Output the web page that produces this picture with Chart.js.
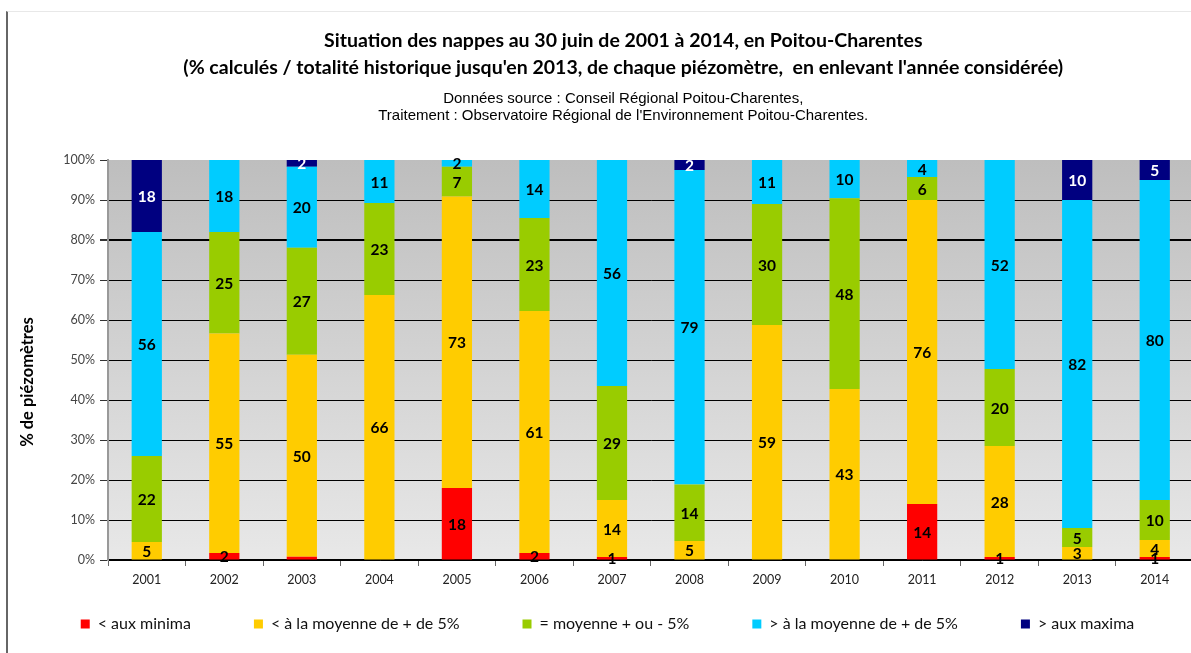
<!DOCTYPE html>
<html>
<head>
<meta charset="utf-8">
<script src="https://cdn.jsdelivr.net/npm/chart.js@4.4.1/dist/chart.umd.min.js"></script>
<style>
  html, body { margin: 0; padding: 0; background: #fff; overflow: hidden; }
  #wrap { position: relative; width: 1191px; height: 653px; overflow: hidden; }
  #chart { position: absolute; left: 0; top: 0; }
  #frame { position: absolute; left: 6px; top: 11px; width: 1200px; height: 700px;
           border-left: 2px solid #666; border-top: 1px solid #e8e8e8; pointer-events: none; }
</style>
</head>
<body>
<div id="wrap">
  <canvas id="chart" width="1200" height="653"></canvas>
  <div id="frame"></div>
</div>
<script>
// years
const years = ['2001','2002','2003','2004','2005','2006','2007','2008','2009','2010','2011','2012','2013','2014'];

// bar segment heights (% of piezometers)
const minima   = [0, 1.75, 0.8, 0, 18, 1.75, 0.75, 0, 0, 0, 14, 0.75, 0, 0.75];
const belowAvg = [4.5, 54.85, 50.5, 66.25, 72.9, 60.5, 14.25, 4.75, 58.75, 42.75, 76, 27.75, 3.25, 4.25];
const aroundAvg = [21.5, 25.4, 26.75, 23, 7.4, 23.25, 28.5, 14.1, 30.25, 47.7, 5.75, 19.25, 4.75, 10];
const aboveAvg = [56, 18, 20.25, 10.75, 1.7, 14.5, 56.5, 78.65, 11, 9.55, 4.25, 52.25, 82, 80];
const maxima   = [18, 0, 1.7, 0, 0, 0, 0, 2.5, 0, 0, 0, 0, 10, 5];

// numbers printed on the bars (null = not printed)
const lblMinima   = [null, 2, null, null, 18, 2, 1, null, null, null, 14, 1, null, 1];
const lblBelowAvg = [5, 55, 50, 66, 73, 61, 14, 5, 59, 43, 76, 28, 3, 4];
const lblAroundAvg = [22, 25, 27, 23, 7, 23, 29, 14, 30, 48, 6, 20, 5, 10];
const lblAboveAvg = [56, 18, 20, 11, 2, 14, 56, 79, 11, 10, 4, 52, 82, 80];
const lblMaxima   = [18, null, 2, null, null, null, null, 2, null, null, null, null, 10, 5];

const seriesNames = ['< aux minima', '< à la moyenne de + de 5%', '= moyenne + ou - 5%', '> à la moyenne de + de 5%', '> aux maxima'];
const seriesColors = ['#ff0000', '#ffcc00', '#99cc00', '#00ccff', '#000080'];
const yTicks = [0, 10, 20, 30, 40, 50, 60, 70, 80, 90, 100];

const values = [minima, belowAvg, aroundAvg, aboveAvg, maxima];
const labels = [lblMinima, lblBelowAvg, lblAroundAvg, lblAboveAvg, lblMaxima];

const plotBg = {
  id: 'plotBg',
  beforeDraw(chart) {
    const {ctx, chartArea: a} = chart;
    const g = ctx.createLinearGradient(0, a.top, 0, a.bottom);
    g.addColorStop(0, '#bebebe');
    g.addColorStop(1, '#e8e8e8');
    ctx.save();
    ctx.fillStyle = g;
    ctx.fillRect(a.left, a.top, a.right - a.left, a.bottom - a.top);
    ctx.restore();
  }
};

const barLabels = {
  id: 'barLabels',
  afterDatasetsDraw(chart) {
    const ctx = chart.ctx;
    ctx.save();
    ctx.font = 'bold 15.5px Lato';
    ctx.textAlign = 'center';
    ctx.textBaseline = 'middle';
    chart.data.datasets.forEach((ds, i) => {
      chart.getDatasetMeta(i).data.forEach((el, j) => {
        const t = labels[i][j];
        if (t === null) return;
        ctx.fillStyle = i === 4 ? '#ffffff' : '#000000';
        ctx.fillText(String(t), el.x, (el.y + el.base) / 2 + 1);
      });
    });
    ctx.restore();
  }
};

const yTitle = {
  id: 'yTitle',
  afterDraw(chart) {
    const ctx = chart.ctx;
    ctx.save();
    ctx.translate(28, 382);
    ctx.rotate(-Math.PI / 2);
    ctx.font = 'bold 16.5px Lato';
    ctx.fillStyle = '#000';
    ctx.textAlign = 'center';
    ctx.textBaseline = 'middle';
    ctx.fillText('% de piézomètres', 0, 0);
    ctx.restore();
  }
};

// legend: one row, centred under the plot, item text at y ~624
const legendPlace = {
  id: 'legendPlace',
  afterLayout(chart) {
    const lg = chart.legend;
    const pad = lg.options.labels.padding;
    lg.maxWidth = 1400;
    lg.fit();
    lg.left = 607.5 - 700;
    lg.right = 607.5 + 700;
    lg.width = 1400;
    lg.top = 616 - pad;
    lg.bottom = chart.height;
    lg.height = lg.bottom - lg.top;
  }
};

new Chart(document.getElementById('chart'), {
  type: 'bar',
  data: {
    labels: years,
    datasets: values.map((v, i) => ({
      label: seriesNames[i],
      data: v,
      backgroundColor: seriesColors[i],
      borderWidth: 0,
      barPercentage: 0.39,
      categoryPercentage: 1
    }))
  },
  options: {
    responsive: false,
    animation: false,
    devicePixelRatio: 1,
    layout: { padding: { left: 53, right: 6.5, top: 0, bottom: 0 } },
    plugins: {
      title: {
        display: true,
        text: ['Situation des nappes au 30 juin de 2001 à 2014, en Poitou-Charentes',
               "(% calculés / totalité historique jusqu'en 2013, de chaque piézomètre,  en enlevant l'année considérée)"],
        color: '#000',
        font: { family: 'Lato', size: 19.5, weight: 'bold', lineHeight: '27px' },
        padding: { top: 27.5, bottom: 0 }
      },
      subtitle: {
        display: true,
        text: ['Données source : Conseil Régional Poitou-Charentes,',
               "Traitement : Observatoire Régional de l'Environnement Poitou-Charentes."],
        color: '#000',
        font: { family: 'Liberation Sans', size: 15, lineHeight: '17px' },
        padding: { top: 9, bottom: 35.5 }
      },
      legend: {
        position: 'bottom',
        maxHeight: 60,
        labels: {
          boxWidth: 9,
          boxHeight: 9,
          padding: 63,
          color: '#111',
          font: { family: 'Lato', size: 16 }
        }
      },
      tooltip: { enabled: false }
    },
    scales: {
      x: {
        stacked: true,
        grid: { display: true, drawOnChartArea: false, drawTicks: true, tickLength: 6, tickColor: '#666', offset: true },
        border: { display: true, color: '#000', width: 1.5 },
        ticks: { color: '#222', font: { family: 'Lato', size: 12.5 }, padding: 6, maxRotation: 0 }
      },
      y: {
        stacked: true,
        min: 0,
        max: 100,
        afterFit(axis) { axis.width = 55; },
        afterBuildTicks(axis) { axis.ticks = yTicks.map(v => ({ value: v })); },
        grid: {
          color: ctx => (ctx.tick && ctx.tick.value === 100) ? 'rgba(0,0,0,0)' : '#000',
          lineWidth: ctx => (ctx.tick && ctx.tick.value === 80) ? 2 : 1,
          tickLength: 8,
          tickColor: '#333'
        },
        border: { display: true, color: '#999', width: 2 },
        ticks: {
          color: '#444',
          padding: 5,
          font: { family: 'Lato', size: 12.5 },
          callback: v => v + '%'
        }
      }
    }
  },
  plugins: [plotBg, barLabels, yTitle, legendPlace]
});
</script>
</body>
</html>
